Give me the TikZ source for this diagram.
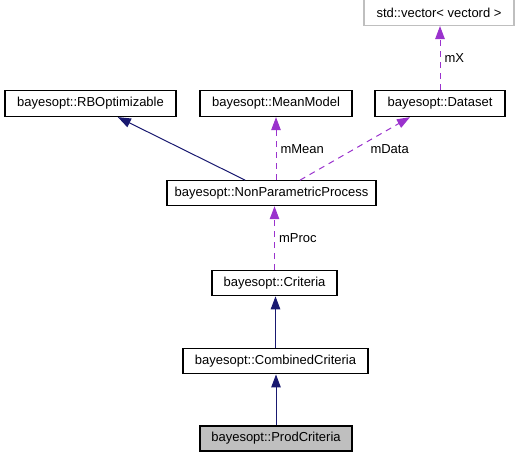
\documentclass[tikz,border=0pt]{standalone}
\usepackage{fontspec}
\setmainfont{Liberation Sans}
\usepackage{xcolor}
\usepackage{tikz}
\usetikzlibrary{positioning, arrows.meta}

\definecolor{edgeblue}{HTML}{191970}
\definecolor{edgepurple}{HTML}{9A32CD}
\definecolor{boxgray}{HTML}{BFBFBF}

\begin{document}
\begin{tikzpicture}[
				font=\fontsize{13}{15}\selectfont,
				box/.style={
					rectangle, 
					draw, 
					line width=1.1pt,
					minimum height=25pt, 
					inner sep=0pt,
					fill=white
				},
				inherit/.style={-{Triangle[length=13pt, width=9.5pt]}, draw=edgeblue, line width=1pt},
				usage/.style={-{Triangle[length=13pt, width=9.5pt]}, draw=edgepurple, line width=1pt, dash pattern=on 6pt off 5pt},
				lbl/.style={inner sep=1pt}
				]
				\useasboundingbox (0,0) rectangle (521pt,457pt);
				
				% --- 1. Class chain (bottom up) ---
				\node[box, minimum width=152pt, fill=boxgray] (prod) at (276pt,18.5pt) {bayesopt::ProdCriteria};
				\node[box, minimum width=185pt, above=51pt of prod, xshift=-0.5pt] (combined) {bayesopt::CombinedCriteria};
				\node[box, minimum width=125pt, above=52pt of combined, xshift=-1pt] (criteria) {bayesopt::Criteria};
				\node[box, minimum width=209pt, above=64pt of criteria, xshift=-3pt] (npp) {bayesopt::NonParametricProcess};
				
				% --- 2. Top row (members and base) ---
				\node[box, minimum width=171pt, minimum height=26pt, above=63pt of npp, xshift=-181pt] (rbo) {bayesopt::RBOptimizable};
				\node[box, minimum width=152pt, minimum height=26pt, above=63pt of npp, xshift=4.5pt] (mean) {bayesopt::MeanModel};
				\node[box, minimum width=130pt, minimum height=26pt, above=63pt of npp, xshift=168.5pt] (dataset) {bayesopt::Dataset};
				
				% template type, grey frame
				\node[box, draw=boxgray, minimum width=150pt, minimum height=26pt, above=64pt of dataset, xshift=-1pt] (vec) {std::vector\textless{} vectord \textgreater{}};
				
				% --- 3. Connectors ---
				\draw[inherit] (prod.north) -- (prod.north |- combined.south);
				\draw[inherit] (combined.north) -- (combined.north |- criteria.south);
				\draw[usage] (criteria.north) -- (criteria.north |- npp.south)
					node[lbl, midway, right=3pt] {mProc};
				
				\draw[inherit] (npp) -- (rbo);
				\draw[usage] (npp.north -| mean.south) -- (mean.south)
					node[lbl, midway, right=3pt] {mMean};
				\draw[usage] ([xshift=28.5pt]npp.north) -- ([xshift=-30pt]dataset.south)
					node[lbl, midway, right=14pt] {mData};
				\draw[usage] (dataset.north) -- (dataset.north |- vec.south)
					node[lbl, midway, right=3pt] {mX};
				
			\end{tikzpicture}
\end{document}
